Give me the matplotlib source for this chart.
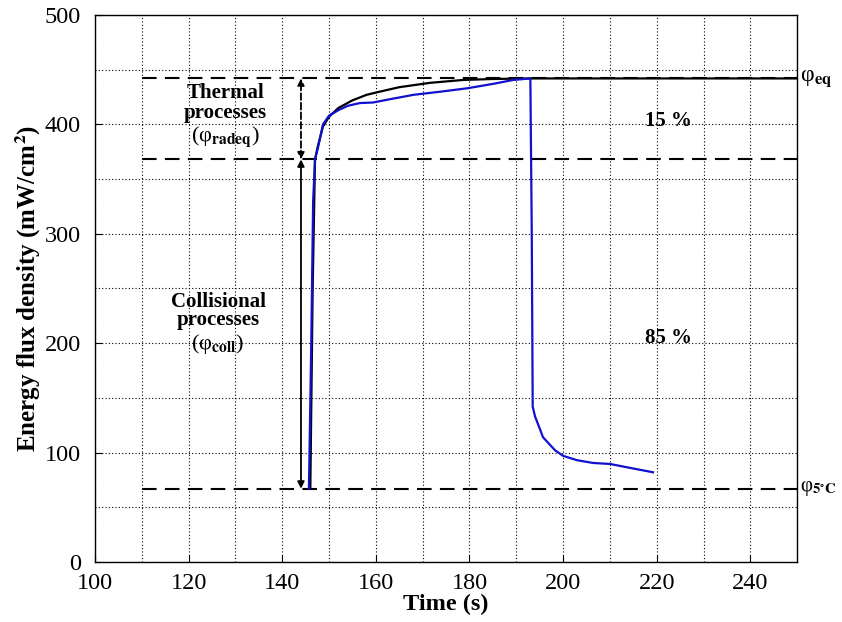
import matplotlib
matplotlib.use("Agg")
import matplotlib.pyplot as plt
from matplotlib.ticker import MultipleLocator

plt.rcParams['font.family'] = ['Liberation Serif', 'DejaVu Serif']
plt.rcParams['mathtext.fontset'] = 'stix'

# Data
blue_t = [145.7, 146.2, 146.6, 147.0, 147.6, 148.7, 150.0, 152.0, 154.0, 156.6, 159.4,
          163.0, 168.0, 174.0, 179.5, 185.0, 189.3, 193.0, 193.3, 193.5, 194.0, 195.0,
          195.7, 197.0, 198.3, 200.0, 203.0, 206.4, 210.0, 214.3, 219.2]
blue_y = [67, 200, 330, 368, 378, 400, 408, 413, 417, 419.5, 420,
          423, 427, 430, 433, 437, 440.6, 442, 300, 142, 133, 122,
          114, 108, 102, 97, 93, 90.5, 89.6, 86, 82]
black_t = [146.0, 146.5, 147.0, 147.6, 148.7, 150.0, 152.0, 155.0, 158.0, 160.9,
           165.0, 171.6, 178.6, 185.0, 193.0, 250.0]
black_y = [67, 250, 368, 380, 398, 407, 415, 422, 427, 430,
           434, 438, 440.6, 441.5, 442, 442]
phi_eq = 442
phi_split = 368
phi_5c = 67
ref_start = 110

fig = plt.figure(figsize=(8.42, 6.22), dpi=100)
ax = fig.add_axes([0.1128, 0.0965, 0.834, 0.8794])

ax.set_xlim(100, 250)
ax.set_ylim(0, 500)
ax.xaxis.set_major_locator(MultipleLocator(20))
ax.xaxis.set_minor_locator(MultipleLocator(10))
ax.yaxis.set_major_locator(MultipleLocator(100))
ax.yaxis.set_minor_locator(MultipleLocator(50))
ax.grid(True, which='both', linestyle=(0, (1, 2)), color='black', linewidth=0.8)
ax.tick_params(which='major', direction='in', labelsize=17.5, length=5)
ax.tick_params(axis='x', which='major', pad=8)
ax.tick_params(axis='y', which='major', pad=10)
ax.tick_params(which='minor', direction='in', length=0)
for s in ax.spines.values():
    s.set_linewidth(1.0)

dash = (0, (7, 4))
for yv in (phi_eq, phi_split, phi_5c):
    ax.plot([ref_start, 250], [yv, yv], color='black', linestyle=dash, linewidth=1.5)

ax.plot(black_t, black_y, color='black', linewidth=1.6)
ax.plot(blue_t, blue_y, color='#1010d0', linewidth=1.6)

# arrows
xa = 144
ax.annotate('', xy=(xa, phi_eq), xytext=(xa, phi_split),
            arrowprops=dict(arrowstyle='<|-|>', linestyle='--', color='black', lw=1.3,
                            mutation_scale=10, shrinkA=0, shrinkB=0))
ax.annotate('', xy=(xa, phi_split), xytext=(xa, phi_5c),
            arrowprops=dict(arrowstyle='<|-|>', color='black', lw=1.3,
                            mutation_scale=10, shrinkA=0, shrinkB=0))

tk = dict(ha='center', va='center', fontsize=15, fontweight='bold')
ax.text(127.8, 429, 'Thermal', **tk)
ax.text(127.8, 410, 'processes', **tk)
ax.text(127.8, 389, r'(φ$_{\mathbf{radeq}}$)', ha='center', va='center', fontsize=16)
ax.text(126.3, 238, 'Collisional', **tk)
ax.text(126.3, 221, 'processes', **tk)
ax.text(126.3, 199, r'(φ$_{\mathbf{coll}}$)', ha='center', va='center', fontsize=16)
ax.text(222.6, 403, '15 %', **tk)
ax.text(222.6, 205, '85 %', **tk)

ax.text(250.5, phi_eq, r'φ$_{\mathbf{eq}}$', ha='left', va='center', fontsize=17, clip_on=False)
ax.text(250.5, phi_5c, r'φ$_{\mathbf{5^{\circ}C}}$', ha='left', va='center', fontsize=15, clip_on=False)

ax.set_xlabel('Time (s)', fontsize=17.5, fontweight='bold', labelpad=0)
ax.set_ylabel(r'Energy flux density (mW/cm$^{\mathbf{2}}$)', fontsize=18, fontweight='bold', labelpad=1)

fig.savefig('out.png', dpi=100)
